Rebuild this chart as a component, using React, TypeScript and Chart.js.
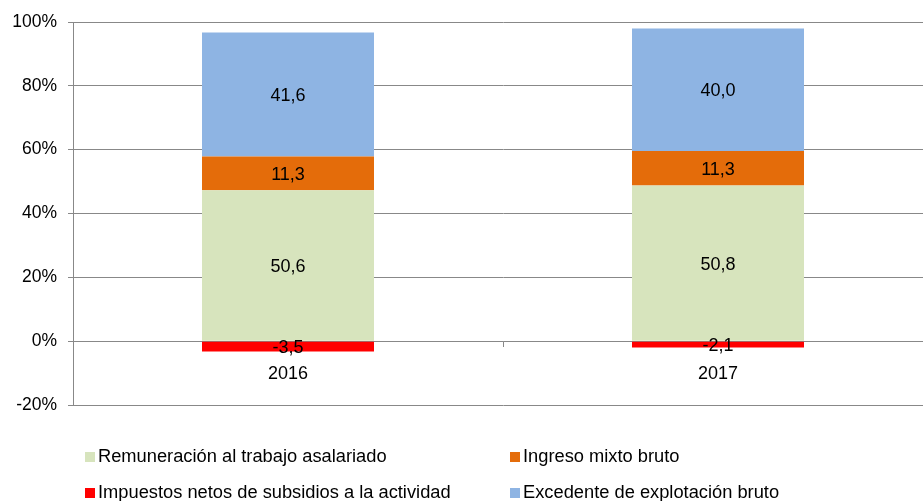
import React, { useEffect, useRef } from "react";
import { Chart, registerables } from "chart.js";

Chart.register(...registerables);

const categories = ["2016", "2017"];
const remuneracion = [50.6, 50.8];
const ingresoMixto = [11.3, 11.3];
const excedente = [41.6, 40.0];
const impuestos = [-3.5, -2.1];

const seriesNames = [
  "Remuneración al trabajo asalariado",
  "Ingreso mixto bruto",
  "Excedente de explotación bruto",
  "Impuestos netos de subsidios a la actividad",
];
const seriesColors = ["#D7E4BD", "#E46C0A", "#8EB4E3", "#FF0000"];
const yMin = -20;
const yMax = 100;
const yStep = 20;

const FONT = "'Liberation Sans', Arial, sans-serif";

// Excel-style 100% stacking: each value as a share of the sum of absolute values
const seriesValues = [remuneracion, ingresoMixto, excedente, impuestos];
const totals = categories.map((_, i) =>
  seriesValues.reduce((s, arr) => s + Math.abs(arr[i]), 0)
);
const toShare = (arr: number[]) => arr.map((v, i) => (v / totals[i]) * 100);

const fmt = (v: number) => v.toFixed(1).replace(".", ",");

const dataLabelPlugin = {
  id: "dataLabels",
  afterDatasetsDraw(chart: any) {
    const ctx = chart.ctx;
    ctx.save();
    ctx.font = `18px ${FONT}`;
    ctx.fillStyle = "#000";
    ctx.textAlign = "center";
    ctx.textBaseline = "middle";
    chart.data.datasets.forEach((ds: any, di: number) => {
      const meta = chart.getDatasetMeta(di);
      meta.data.forEach((el: any, i: number) => {
        const raw = ds.rawValues[i];
        const cy = (el.y + el.base) / 2;
        ctx.fillText(fmt(raw), el.x, cy + 1.5);
      });
    });
    ctx.restore();
  },
};

const legendLayout = [
  { idx: 0, x: 85, y: 452 },
  { idx: 1, x: 510, y: 452 },
  { idx: 3, x: 85, y: 488 },
  { idx: 2, x: 510, y: 488 },
];

const customLegendPlugin = {
  id: "customLegend",
  afterDraw(chart: any) {
    const ctx = chart.ctx;
    ctx.save();
    ctx.font = `18.3px ${FONT}`;
    ctx.textAlign = "left";
    ctx.textBaseline = "middle";
    legendLayout.forEach((it) => {
      ctx.fillStyle = seriesColors[it.idx];
      ctx.fillRect(it.x, it.y, 10, 10);
      ctx.fillStyle = "#000";
      ctx.fillText(seriesNames[it.idx], it.x + 13, it.y + 4.5);
    });
    ctx.restore();
  },
};

export default function App() {
  const ref = useRef<HTMLCanvasElement | null>(null);

  useEffect(() => {
    document.body.style.margin = "0";
    if (!ref.current) return;
    const chart = new Chart(ref.current, {
      type: "bar",
      data: {
        labels: categories,
        datasets: seriesValues.map((arr, k) => ({
          label: seriesNames[k],
          data: toShare(arr),
          rawValues: arr,
          backgroundColor: seriesColors[k],
          borderWidth: 0,
          barPercentage: 1,
          categoryPercentage: 0.4,
        })) as any,
      },
      options: {
        responsive: false,
        animation: false,
        devicePixelRatio: 1,
        layout: { padding: { left: 0, top: 22, right: 7, bottom: 96 } },
        plugins: {
          legend: { display: false },
          tooltip: { enabled: false },
        },
        scales: {
          x: {
            type: "category",
            stacked: true,
            position: { y: 0 } as any,
            grid: {
              offset: true,
              drawOnChartArea: false,
              drawTicks: true,
              tickLength: 5,
              color: "#888888",
            },
            border: { display: true, color: "#888888", width: 1 },
            ticks: {
              color: "#000",
              font: { family: FONT, size: 18 },
              padding: 17,
            },
          },
          y: {
            stacked: true,
            min: yMin,
            max: yMax,
            afterFit: (scale: any) => {
              scale.width = 73;
            },
            grid: {
              color: "#888888",
              tickLength: 5,
            },
            border: { display: true, color: "#888888", width: 1 },
            ticks: {
              stepSize: yStep,
              color: "#000",
              font: { family: FONT, size: 17.5 },
              padding: 11,
              callback: (v: any) => `${v}%`,
            },
          },
        },
      },
      plugins: [dataLabelPlugin, customLegendPlugin],
    });
    return () => chart.destroy();
  }, []);

  return (
    <div style={{ width: 923, height: 501, overflow: "hidden", position: "relative", background: "#fff" }}>
      <canvas ref={ref} width={940} height={501} style={{ display: "block" }} />
    </div>
  );
}
